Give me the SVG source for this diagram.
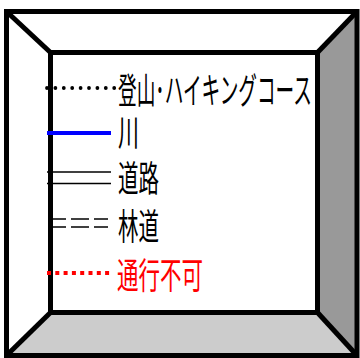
<svg xmlns="http://www.w3.org/2000/svg" width="360" height="358" viewBox="0 0 360 358">
<style>
.frame{stroke:#000;stroke-width:5;stroke-linejoin:miter;fill:none}
.lbl{font-family:"Noto Sans CJK JP","Noto Sans",sans-serif;font-size:36px;fill:#000}
.red{fill:#ff0000}
</style>
<rect x="0" y="0" width="360" height="358" fill="#fff"/>
<g id="frame">
<polygon points="357,11.5 317.5,52.5 317.5,312.5 357,355.5" fill="#999999"/>
<polygon points="6.5,355.5 50.5,312.5 317.5,312.5 357,355.5" fill="#cccccc"/>
<rect class="frame" x="6.5" y="11.5" width="350.5" height="344"/>
<rect class="frame" x="50.5" y="52.5" width="267" height="260"/>
<line class="frame" x1="6.5" y1="11.5" x2="50.5" y2="52.5"/>
<line class="frame" x1="357" y1="11.5" x2="317.5" y2="52.5"/>
<line class="frame" x1="6.5" y1="355.5" x2="50.5" y2="312.5"/>
<line class="frame" x1="357" y1="355.5" x2="317.5" y2="312.5"/>
</g>
<g id="connectors">
<line x1="47" y1="88" x2="116" y2="88" stroke="#000" stroke-width="3.8" stroke-linecap="round" stroke-dasharray="0 8.4"/>
<line x1="47" y1="133" x2="111" y2="133" stroke="#0000ff" stroke-width="4"/>
<line x1="47" y1="172" x2="111" y2="172" stroke="#000" stroke-width="1.4"/>
<line x1="47" y1="183.5" x2="111" y2="183.5" stroke="#000" stroke-width="1.4"/>
<line x1="48" y1="219" x2="108" y2="219" stroke="#000" stroke-width="1.4" stroke-dasharray="18,5"/>
<line x1="48" y1="227" x2="108" y2="227" stroke="#000" stroke-width="1.4" stroke-dasharray="18,5"/>
<line x1="47" y1="273" x2="113" y2="273" stroke="#ff0000" stroke-width="4" stroke-dasharray="4,4.3"/>
</g>
<g id="item-trail">
<text class="lbl" x="118" y="104" textLength="194" lengthAdjust="spacingAndGlyphs">登山･ハイキングコース</text>
</g>
<g id="item-river">
<text class="lbl" x="118" y="146" textLength="21" lengthAdjust="spacingAndGlyphs">川</text>
</g>
<g id="item-road">
<text class="lbl" x="118" y="192" textLength="41" lengthAdjust="spacingAndGlyphs">道路</text>
</g>
<g id="item-forest-road">
<text class="lbl" x="118" y="240" textLength="41" lengthAdjust="spacingAndGlyphs">林道</text>
</g>
<g id="item-closed">
<text class="lbl red" x="117" y="289" textLength="86" lengthAdjust="spacingAndGlyphs">通行不可</text>
</g>
</svg>
